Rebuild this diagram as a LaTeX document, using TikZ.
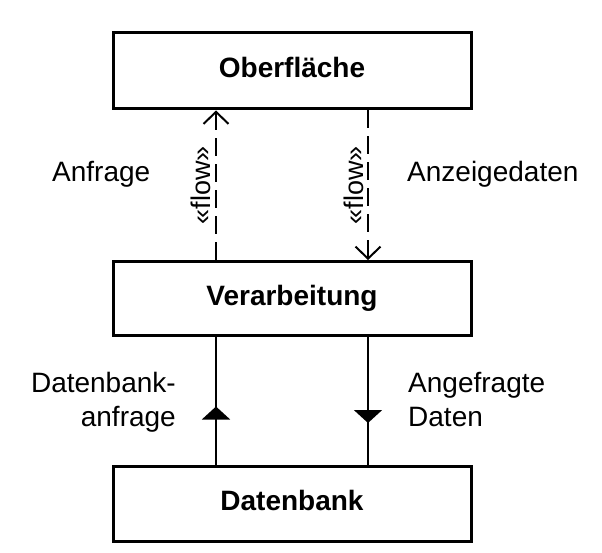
\documentclass[tikz,border=0pt]{standalone}
\usepackage{fontspec}
\setmainfont{Liberation Sans}
\usetikzlibrary{arrows.meta,decorations.markings}
\begin{document}
\begin{tikzpicture}[x=1pt,y=1pt,
  box/.style={draw,line width=3pt,minimum width=358pt,inner sep=0pt,
    font=\fontsize{28}{34}\selectfont\bfseries,text height=20pt,text depth=6pt},
  lbl/.style={inner sep=0pt,font=\fontsize{28}{34}\selectfont},
  stereo/.style={inner sep=0pt,font=\fontsize{27}{32}\selectfont,rotate=90,anchor=base},
  flowline/.style={line width=2pt,dash pattern=on 18pt off 8pt,
    -{Straight Barb[length=12pt,width=25pt,line width=2pt]}},
  dataline/.style={line width=2pt},
  upmark/.style={decoration={markings,mark=at position #1 with {\arrow{Triangle[length=13pt,width=28pt]}}},postaction={decorate}}
]
\useasboundingbox (0,0) rectangle (602,-553);
\node[box,minimum height=76pt] (ob) at (292,-71) {Oberfläche};
\node[box,minimum height=74pt] (ve) at (292,-298.5) {Verarbeitung};
\node[box,minimum height=75pt] (db) at (292,-503.5) {Datenbank};
\coordinate (xl) at (216,0);
\coordinate (xr) at (368,0);
\draw[flowline] (ve.north -| xl) -- (ob.south -| xl);
\draw[flowline] (ob.south -| xr) -- (ve.north -| xr);
\draw[dataline,upmark=58pt] (db.north -| xl) -- (ve.south -| xl);
\draw[dataline,upmark=86pt] (ve.south -| xr) -- (db.north -| xr);
\node[stereo] (f1) at (210,-185) {«flow»};
\node[stereo] (f2) at (363,-185) {«flow»};
\node[lbl,anchor=base west] (l1) at (52,-182) {Anfrage};
\node[lbl,anchor=base west] (l2) at (407,-182) {Anzeigedaten};
\node[lbl,anchor=east,align=right] (l3) at (176,-402) {Datenbank-\\anfrage};
\node[lbl,anchor=west,align=left] (l4) at (408,-400) {Angefragte\\Daten};
\end{tikzpicture}
\end{document}
